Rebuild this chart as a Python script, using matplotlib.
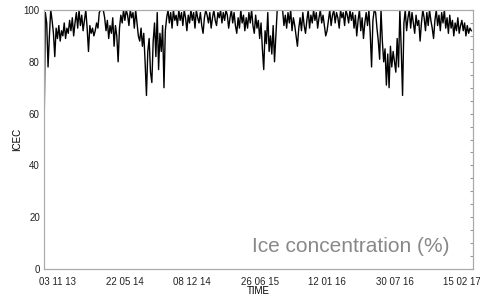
import matplotlib
matplotlib.use("Agg")
import matplotlib.pyplot as plt
import pandas as pd
import numpy as np

# ice concentration, one reading every 4 days from 24 Sep 2013
icec = [
    50, 99, 95, 78, 90, 100, 96, 91, 82, 93,
    89, 94, 88, 92, 90, 95, 89, 93, 91, 96,
    92, 97, 90, 95, 99, 93, 100, 94, 98, 92,
    96, 100, 93, 84, 94, 91, 93, 90, 92, 95,
    93, 99, 100, 100, 100, 97, 92, 96, 89, 94,
    91, 97, 86, 94, 90, 80, 93, 98, 95, 100,
    96, 100, 98, 94, 100, 97, 99, 93, 100, 95,
    90, 88, 93, 86, 91, 80, 67, 84, 89, 76,
    72, 88, 95, 82, 99, 77, 91, 84, 94, 70,
    92, 97, 100, 95, 99, 93, 100, 96, 98, 94,
    100, 96, 99, 94, 100, 97, 92, 98, 95, 100,
    96, 99, 93, 100, 97, 95, 99, 94, 91, 97,
    100, 98, 95, 99, 93, 97, 100, 96, 94, 99,
    97, 100, 95, 99, 96, 100, 98, 93, 97, 100,
    95, 99, 94, 91, 97, 93, 100, 95, 98, 92,
    97, 93, 99, 95, 100, 94, 91, 98, 93, 96,
    89, 95, 85, 77, 92, 87, 99, 84, 90, 83,
    94, 80, 90, 100, 100, 100, 100, 100, 94, 98,
    93, 99, 95, 100, 92, 97, 94, 90, 86, 93,
    97, 92, 99, 94, 91, 96, 100, 93, 98, 95,
    100, 96, 99, 93, 97, 100, 95, 98, 94, 90,
    92, 96, 100, 94, 98, 100, 95, 99, 97, 93,
    100, 97, 99, 94, 100, 98, 95, 100, 96, 99,
    93, 98, 90, 96, 100, 92, 97, 89, 95, 99,
    94, 100, 91, 78, 96, 100, 99, 93, 88, 81,
    100, 88, 80, 85, 71, 83, 70, 86, 78, 84,
    80, 76, 89, 78, 100, 85, 67, 95, 100, 92,
    97, 100, 93, 99, 95, 91, 98, 94, 96, 88,
    95, 100, 97, 92, 99, 94, 100, 96, 93, 89,
    96, 100, 94, 98, 92, 99, 95, 100, 93, 97,
    91, 98, 93, 96, 90, 95, 92, 97, 91, 94,
    96, 92, 95, 90, 94, 91, 93, 92,
]
dates = pd.date_range("2013-09-24", periods=len(icec), freq="4D")

tick_dates = ["2013-11-03", "2014-05-22", "2014-12-08", "2015-06-26",
              "2016-01-12", "2016-07-30", "2017-02-15"]
tick_labels = ["03 11 13", "22 05 14", "08 12 14", "26 06 15",
               "12 01 16", "30 07 16", "15 02 17"]

plt.rcParams["font.family"] = ["Liberation Sans", "DejaVu Sans"]

fig = plt.figure(figsize=(4.81, 2.98), dpi=100)
ax = fig.add_axes([44/481, 1-269/298, 429/481, 259/298])

ax.plot(dates, icec, color="black", lw=1.0)

ax.set_xlim(pd.Timestamp("2013-09-24"), pd.Timestamp("2017-03-20"))
ax.set_ylim(0, 100)
ax.set_xticks(pd.to_datetime(tick_dates))
ax.set_xticklabels(tick_labels)
ax.set_yticks([0, 20, 40, 60, 80, 100])
ax.tick_params(axis="both", labelsize=7, length=0, colors="#222222")
ax.tick_params(axis="x", pad=6)
ax.tick_params(axis="y", pad=3)

# small inward ticks on the right border
ax2 = ax.twinx()
ax2.set_ylim(0, 100)
ax2.set_yticks(np.arange(0, 101, 5))
ax2.set_yticklabels([])
ax2.tick_params(axis="y", direction="in", length=2, color="#999999")

for a in (ax, ax2):
    for s in a.spines.values():
        s.set_color("#aaaaaa")
        s.set_linewidth(0.8)

ax.set_xlabel("TIME", fontsize=7, labelpad=-1)
ax.set_ylabel("ICEC", fontsize=7, labelpad=1)

ax.text(0.946, 0.067, "Ice concentration (%)", transform=ax.transAxes,
        ha="right", va="baseline", fontsize=15, color="#888888")

fig.savefig("out.png", dpi=100)
